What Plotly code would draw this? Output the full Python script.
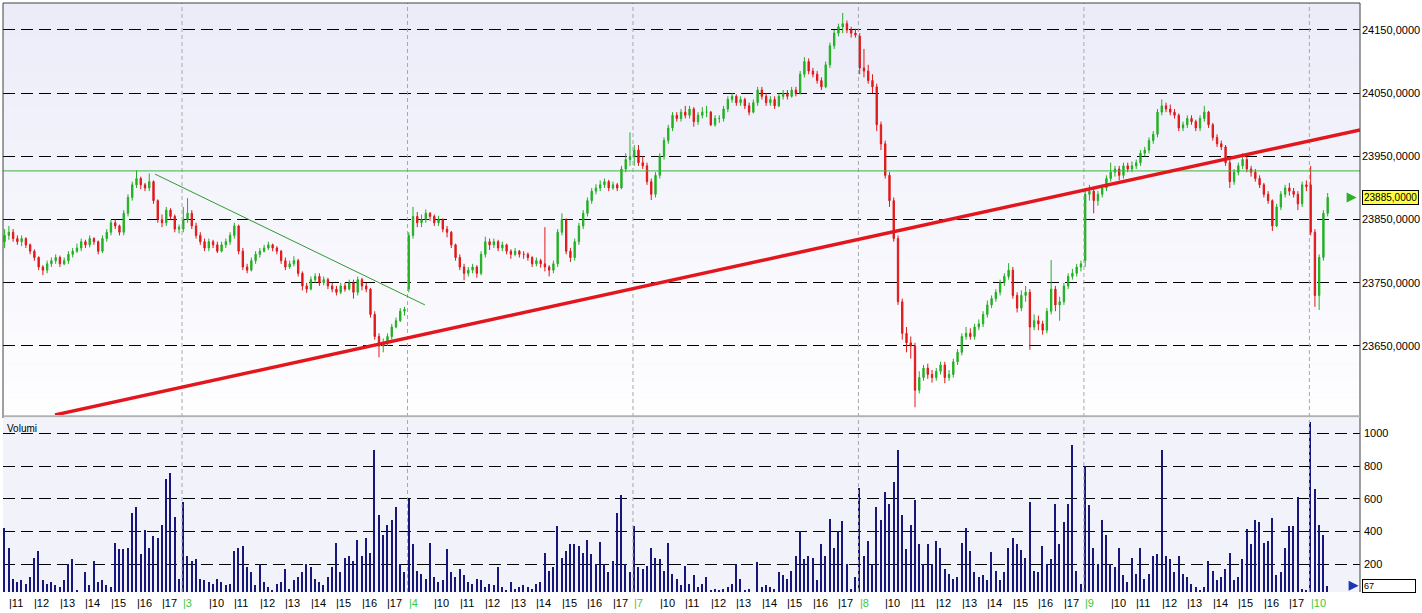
import plotly.graph_objects as go
from plotly.subplots import make_subplots

# Sessions on the chart (day of month) and the 10-minute slot of the first bar (0 = 9:00)
days = ["2", "3", "4", "7", "8", "9", "10"]
first_slot = [11, 0, 0, 0, 0, 0, 0]
hour_labels = [10, 11, 12, 13, 14, 15, 16, 17]

# day 2 (from 10:50)
o_d2 = [23815, 23825, 23830, 23820, 23815, 23820, 23810, 23800, 23790, 23775, 23770, 23780, 23785, 23790, 23780, 23785, 23795, 23800, 23805, 23815, 23810, 23820, 23815, 23800, 23820, 23830, 23845, 23840, 23830, 23860, 23885, 23905, 23915, 23905, 23900, 23910, 23880, 23850, 23845, 23865, 23855, 23835]
h_d2 = [23835, 23840, 23835, 23825, 23825, 23822, 23812, 23803, 23792, 23778, 23785, 23790, 23795, 23793, 23790, 23800, 23805, 23812, 23820, 23818, 23825, 23822, 23817, 23825, 23835, 23850, 23850, 23842, 23865, 23890, 23910, 23928, 23918, 23908, 23923, 23912, 23882, 23858, 23870, 23868, 23858, 23842]
l_d2 = [23805, 23818, 23815, 23810, 23808, 23805, 23795, 23785, 23770, 23762, 23765, 23775, 23780, 23775, 23778, 23780, 23790, 23797, 23800, 23805, 23806, 23810, 23795, 23797, 23815, 23825, 23835, 23825, 23825, 23855, 23880, 23900, 23898, 23895, 23895, 23875, 23845, 23838, 23840, 23850, 23830, 23828]
c_d2 = [23825, 23830, 23820, 23815, 23820, 23810, 23800, 23790, 23775, 23770, 23780, 23785, 23790, 23780, 23785, 23795, 23800, 23805, 23815, 23810, 23820, 23815, 23800, 23820, 23830, 23845, 23840, 23830, 23860, 23885, 23905, 23915, 23905, 23900, 23910, 23880, 23850, 23845, 23865, 23855, 23835, 23838]
v_d2 = [420, 300, 110, 90, 100, 80, 120, 240, 280, 100, 80, 90, 70, 60, 100, 200, 230, 40, 30, 150, 70, 220, 90, 100, 70, 60, 330, 290, 290, 300, 510, 550, 260, 410, 300, 370, 360, 440, 720, 760, 490, 110]

# day 3
o_d3 = [23835, 23850, 23860, 23840, 23825, 23815, 23805, 23815, 23810, 23800, 23810, 23815, 23825, 23840, 23800, 23775, 23770, 23785, 23795, 23800, 23805, 23810, 23805, 23800, 23785, 23775, 23780, 23785, 23765, 23745, 23740, 23755, 23760, 23750, 23755, 23745, 23740, 23735, 23745, 23740, 23750, 23735, 23755, 23745, 23740, 23700, 23665, 23650, 23655, 23665, 23680, 23690, 23705]
h_d3 = [23870, 23884, 23865, 23845, 23830, 23820, 23820, 23818, 23815, 23815, 23820, 23830, 23845, 23842, 23805, 23780, 23790, 23800, 23805, 23810, 23815, 23812, 23808, 23802, 23790, 23785, 23792, 23788, 23768, 23750, 23760, 23765, 23765, 23760, 23758, 23750, 23745, 23750, 23750, 23755, 23755, 23760, 23758, 23750, 23742, 23705, 23670, 23662, 23670, 23685, 23695, 23710, 23712]
l_d3 = [23830, 23845, 23835, 23820, 23810, 23800, 23800, 23805, 23797, 23798, 23805, 23810, 23820, 23795, 23770, 23765, 23768, 23780, 23790, 23798, 23802, 23800, 23795, 23780, 23770, 23772, 23776, 23760, 23738, 23734, 23738, 23750, 23745, 23746, 23740, 23735, 23730, 23732, 23736, 23738, 23725, 23730, 23738, 23735, 23695, 23660, 23632, 23640, 23650, 23660, 23678, 23688, 23698]
c_d3 = [23850, 23860, 23840, 23825, 23815, 23805, 23815, 23810, 23800, 23810, 23815, 23825, 23840, 23800, 23775, 23770, 23785, 23795, 23800, 23805, 23810, 23805, 23800, 23785, 23775, 23780, 23785, 23765, 23745, 23740, 23755, 23760, 23750, 23755, 23745, 23740, 23735, 23745, 23740, 23750, 23735, 23755, 23745, 23740, 23700, 23665, 23650, 23655, 23665, 23680, 23690, 23705, 23708]
v_d3 = [580, 250, 220, 230, 110, 100, 90, 80, 110, 90, 70, 80, 280, 300, 310, 180, 150, 70, 200, 90, 60, 40, 80, 90, 170, 50, 100, 120, 150, 200, 180, 110, 90, 70, 120, 180, 330, 150, 240, 250, 220, 350, 250, 360, 270, 900, 500, 380, 440, 470, 550, 200, 150]

# day 4
o_d4 = [23740, 23825, 23855, 23845, 23850, 23860, 23855, 23845, 23850, 23835, 23830, 23810, 23790, 23775, 23765, 23770, 23775, 23765, 23795, 23815, 23810, 23815, 23805, 23810, 23800, 23795, 23800, 23795, 23795, 23790, 23780, 23785, 23780, 23775, 23770, 23780, 23830, 23850, 23800, 23790, 23815, 23840, 23860, 23880, 23895, 23900, 23905, 23910, 23900, 23905, 23900, 23930, 23945]
h_d4 = [23830, 23870, 23862, 23858, 23866, 23862, 23858, 23856, 23852, 23840, 23832, 23812, 23795, 23780, 23775, 23780, 23778, 23800, 23823, 23820, 23820, 23818, 23815, 23812, 23803, 23805, 23802, 23800, 23798, 23792, 23790, 23788, 23838, 23778, 23785, 23835, 23860, 23852, 23805, 23820, 23845, 23865, 23885, 23900, 23906, 23912, 23915, 23913, 23910, 23908, 23935, 23955, 23988]
l_d4 = [23735, 23820, 23838, 23838, 23845, 23848, 23840, 23840, 23830, 23822, 23805, 23785, 23770, 23754, 23760, 23765, 23758, 23762, 23790, 23802, 23805, 23800, 23800, 23795, 23788, 23792, 23790, 23788, 23785, 23775, 23776, 23774, 23768, 23760, 23765, 23775, 23825, 23795, 23783, 23785, 23810, 23835, 23855, 23875, 23890, 23895, 23900, 23895, 23897, 23895, 23898, 23925, 23935]
c_d4 = [23825, 23855, 23845, 23850, 23860, 23855, 23845, 23850, 23835, 23830, 23810, 23790, 23775, 23765, 23770, 23775, 23765, 23795, 23815, 23810, 23815, 23805, 23810, 23800, 23795, 23800, 23795, 23795, 23790, 23780, 23785, 23780, 23775, 23770, 23780, 23830, 23850, 23800, 23790, 23815, 23840, 23860, 23880, 23895, 23900, 23905, 23910, 23900, 23905, 23900, 23930, 23945, 23950]
v_d4 = [600, 320, 160, 140, 110, 330, 120, 90, 100, 290, 150, 120, 170, 130, 90, 80, 110, 100, 60, 80, 70, 180, 60, 40, 90, 50, 60, 70, 60, 50, 80, 90, 270, 160, 180, 430, 240, 280, 320, 320, 310, 270, 350, 260, 200, 335, 200, 150, 220, 510, 620, 200, 150]

# day 7
o_d7 = [23950, 23960, 23940, 23935, 23910, 23890, 23920, 23950, 23975, 23995, 24015, 24010, 24020, 24015, 24025, 24005, 24015, 24020, 24020, 24000, 24010, 24010, 24025, 24040, 24045, 24035, 24040, 24030, 24020, 24035, 24055, 24045, 24035, 24040, 24030, 24045, 24050, 24045, 24055, 24050, 24080, 24100, 24085, 24080, 24070, 24060, 24095, 24125, 24145, 24155, 24160, 24150, 24145]
h_d7 = [23968, 23968, 23950, 23940, 23915, 23925, 23955, 23980, 24000, 24020, 24020, 24025, 24030, 24030, 24028, 24020, 24028, 24030, 24022, 24015, 24015, 24030, 24045, 24050, 24048, 24045, 24043, 24035, 24040, 24060, 24060, 24050, 24045, 24045, 24050, 24055, 24055, 24060, 24060, 24085, 24107, 24105, 24090, 24085, 24075, 24100, 24130, 24150, 24160, 24177, 24165, 24155, 24152]
l_d7 = [23935, 23935, 23930, 23905, 23881, 23885, 23915, 23945, 23970, 23990, 24005, 24005, 24010, 24010, 23997, 24000, 24010, 24012, 23998, 23997, 24003, 24005, 24020, 24035, 24030, 24030, 24025, 24015, 24018, 24030, 24040, 24030, 24030, 24025, 24028, 24040, 24040, 24043, 24045, 24048, 24075, 24080, 24075, 24065, 24055, 24058, 24090, 24120, 24140, 24145, 24145, 24138, 24138]
c_d7 = [23960, 23940, 23935, 23910, 23890, 23920, 23950, 23975, 23995, 24015, 24010, 24020, 24015, 24025, 24005, 24015, 24020, 24020, 24000, 24010, 24010, 24025, 24040, 24045, 24035, 24040, 24030, 24020, 24035, 24055, 24045, 24035, 24040, 24030, 24045, 24050, 24045, 24055, 24050, 24080, 24100, 24085, 24080, 24070, 24060, 24095, 24125, 24145, 24155, 24160, 24150, 24145, 24142]
v_d7 = [430, 180, 170, 190, 300, 240, 230, 160, 330, 140, 110, 70, 190, 80, 130, 60, 80, 120, 40, 50, 40, 50, 60, 80, 200, 110, 40, 50, 30, 210, 60, 70, 60, 50, 150, 130, 110, 160, 250, 400, 230, 250, 240, 100, 320, 250, 475, 300, 400, 466, 200, 50, 120]

# day 8
o_d8 = [24140, 24090, 24085, 24070, 24060, 24000, 23970, 23920, 23880, 23820, 23720, 23670, 23655, 23650, 23580, 23600, 23615, 23605, 23600, 23610, 23620, 23600, 23605, 23625, 23640, 23665, 23670, 23665, 23680, 23685, 23700, 23715, 23725, 23735, 23750, 23760, 23770, 23730, 23710, 23730, 23735, 23680, 23690, 23685, 23675, 23705, 23740, 23715, 23720, 23745, 23760, 23765, 23775]
h_d8 = [24145, 24120, 24095, 24080, 24065, 24005, 23975, 23925, 23885, 23825, 23725, 23680, 23665, 23655, 23610, 23620, 23622, 23612, 23615, 23625, 23625, 23612, 23630, 23645, 23670, 23680, 23678, 23685, 23692, 23705, 23722, 23730, 23740, 23755, 23765, 23781, 23775, 23735, 23738, 23745, 23740, 23700, 23698, 23690, 23710, 23786, 23745, 23728, 23750, 23765, 23772, 23780, 23785]
l_d8 = [24080, 24075, 24065, 24050, 23990, 23960, 23915, 23870, 23815, 23715, 23660, 23640, 23630, 23553, 23575, 23595, 23598, 23592, 23595, 23605, 23591, 23595, 23600, 23620, 23635, 23660, 23660, 23660, 23675, 23680, 23695, 23710, 23720, 23730, 23745, 23755, 23725, 23703, 23705, 23720, 23644, 23675, 23675, 23668, 23670, 23700, 23705, 23690, 23715, 23740, 23755, 23760, 23768]
c_d8 = [24090, 24085, 24070, 24060, 24000, 23970, 23920, 23880, 23820, 23720, 23670, 23655, 23650, 23580, 23600, 23615, 23605, 23600, 23610, 23620, 23600, 23605, 23625, 23640, 23665, 23670, 23665, 23680, 23685, 23700, 23715, 23725, 23735, 23750, 23760, 23770, 23730, 23710, 23730, 23735, 23680, 23690, 23685, 23675, 23705, 23740, 23715, 23720, 23745, 23760, 23765, 23775, 23780]
v_d8 = [665, 250, 340, 200, 550, 470, 640, 570, 700, 900, 500, 290, 440, 590, 320, 200, 320, 200, 340, 300, 170, 140, 110, 120, 330, 420, 280, 150, 120, 130, 100, 275, 160, 100, 150, 300, 360, 320, 285, 240, 580, 160, 150, 310, 200, 230, 565, 320, 460, 570, 930, 160, 80]

# day 9
o_d9 = [23785, 23890, 23895, 23880, 23890, 23900, 23915, 23925, 23930, 23920, 23935, 23930, 23935, 23940, 23955, 23960, 23975, 23985, 24020, 24030, 24025, 24020, 24015, 23995, 24000, 24010, 24005, 23995, 24010, 24020, 24000, 23980, 23970, 23965, 23940, 23910, 23925, 23935, 23945, 23930, 23925, 23915, 23905, 23890, 23880, 23840, 23870, 23890, 23900, 23895, 23890, 23875, 23905]
h_d9 = [23900, 23905, 23900, 23895, 23905, 23920, 23940, 23935, 23935, 23940, 23940, 23942, 23945, 23960, 23965, 23980, 23990, 24025, 24040, 24035, 24032, 24025, 24018, 24005, 24015, 24015, 24008, 24015, 24030, 24022, 24003, 23985, 23975, 23968, 23945, 23930, 23940, 23955, 23950, 23935, 23930, 23920, 23908, 23895, 23882, 23875, 23895, 23905, 23908, 23900, 23895, 23910, 23912]
l_d9 = [23775, 23880, 23860, 23872, 23885, 23895, 23910, 23918, 23912, 23915, 23925, 23925, 23930, 23935, 23950, 23955, 23970, 23980, 24015, 24020, 24015, 24010, 23990, 23990, 23995, 24000, 23990, 23990, 24005, 23995, 23975, 23965, 23960, 23935, 23900, 23905, 23920, 23930, 23925, 23918, 23910, 23900, 23885, 23875, 23832, 23838, 23865, 23885, 23888, 23885, 23865, 23870, 23895]
c_d9 = [23890, 23895, 23880, 23890, 23900, 23915, 23925, 23930, 23920, 23935, 23930, 23935, 23940, 23955, 23960, 23975, 23985, 24020, 24030, 24025, 24020, 24015, 23995, 24000, 24010, 24005, 23995, 24010, 24020, 24000, 23980, 23970, 23965, 23940, 23910, 23925, 23935, 23945, 23930, 23925, 23915, 23905, 23890, 23880, 23840, 23870, 23890, 23900, 23895, 23890, 23875, 23905, 23902]
v_d9 = [800, 560, 300, 200, 470, 380, 200, 180, 300, 130, 90, 240, 140, 300, 110, 140, 250, 260, 900, 250, 230, 150, 250, 140, 120, 80, 60, 40, 60, 220, 160, 100, 120, 170, 270, 100, 120, 230, 415, 320, 470, 460, 330, 340, 480, 130, 150, 300, 430, 430, 610, 50, 40]

# day 10 (first 50 minutes)
o_d10 = [23905, 23830, 23730, 23790, 23860]
h_d10 = [23935, 23835, 23795, 23865, 23892]
l_d10 = [23825, 23712, 23707, 23785, 23855]
c_d10 = [23830, 23730, 23790, 23860, 23885]
v_d10 = [1070, 660, 440, 380, 67]

price_ticks = [23650, 23750, 23850, 23950, 24050, 24150]
volume_ticks = [200, 400, 600, 800, 1000]
last_price = 23885
last_volume = 67
resistance = 23927
# drawn trend lines: (bar position, price)
trend_up = [(22.85, 23541), (329.6, 23992)]
trend_down = [(46.35, 23922), (109.8, 23715)]

sessions = [
    (o_d2, h_d2, l_d2, c_d2, v_d2),
    (o_d3, h_d3, l_d3, c_d3, v_d3),
    (o_d4, h_d4, l_d4, c_d4, v_d4),
    (o_d7, h_d7, l_d7, c_d7, v_d7),
    (o_d8, h_d8, l_d8, c_d8, v_d8),
    (o_d9, h_d9, l_d9, c_d9, v_d9),
    (o_d10, h_d10, l_d10, c_d10, v_d10),
]

SLOTS = 53  # 9:00 .. 17:40 in 10 minute bars
GREEN = "#22b022"
RED = "#e01818"
NAVY = "#16167c"
FONT = "Liberation Sans"

xs, op, hi, lo, cl, vol = [], [], [], [], [], []
for j, (so, sh, sl, sc, sv) in enumerate(sessions):
    start = SLOTS * j + first_slot[j]
    xs.extend(range(start, start + len(sc)))
    op.extend(so)
    hi.extend(sh)
    lo.extend(sl)
    cl.extend(sc)
    vol.extend(sv)

x_range = [10.62, 329.6]

fig = make_subplots(rows=2, cols=1, shared_xaxes=True)
fig.add_trace(
    go.Candlestick(
        x=xs, open=op, high=hi, low=lo, close=cl,
        increasing=dict(line=dict(color=GREEN, width=1), fillcolor=GREEN),
        decreasing=dict(line=dict(color=RED, width=1), fillcolor=RED),
        whiskerwidth=0, hoverinfo="skip",
    ),
    row=1, col=1,
)
fig.add_trace(
    go.Bar(x=xs, y=vol, width=0.35, marker=dict(color=NAVY, line=dict(width=0)),
           hoverinfo="skip"),
    row=2, col=1,
)

grid = dict(showgrid=True, gridcolor="black", gridwidth=1, griddash="12px,6px")
fig.update_layout(
    width=1422, height=613,
    margin=dict(l=3, r=62, t=3, b=21),
    paper_bgcolor="white", plot_bgcolor="#f2f2fa",
    showlegend=False, boxgap=0.55, bargap=0,
    font=dict(family=FONT, size=11, color="black"),
    xaxis=dict(range=x_range, showticklabels=False, showgrid=False, zeroline=False,
               rangeslider=dict(visible=False), automargin=False),
    xaxis2=dict(range=x_range, showticklabels=False, showgrid=False, zeroline=False,
                automargin=False),
    yaxis=dict(domain=[0.3005, 1.0], range=[23540.8, 24192.7], side="right",
               tickvals=price_ticks, ticktext=[f"{p},0000" for p in price_ticks],
               tickfont=dict(family=FONT, size=11), ticklabelstandoff=1,
               zeroline=False, ticks="", automargin=False, **grid),
    yaxis2=dict(domain=[0.0, 0.2954], range=[29, 1094], side="right",
                tickvals=volume_ticks, tickfont=dict(family=FONT, size=11),
                ticklabelstandoff=3, zeroline=False, ticks="", automargin=False, **grid),
)

shapes = []
# soft vertical gradient behind the price panel
bands = 24
for k in range(bands):
    t = k / (bands - 1)
    r = round(236 + (254 - 236) * t)
    b = round(249 + (255 - 249) * t)
    shapes.append(dict(type="rect", xref="paper", yref="y domain", x0=0, x1=1,
                       y0=1 - (k + 1) / bands, y1=1 - k / bands, layer="below",
                       line=dict(width=0), fillcolor=f"rgb({r},{r},{b})"))
# session separators
for j in range(1, len(days)):
    shapes.append(dict(type="line", xref="x", yref="paper", x0=SLOTS * j - 0.3,
                       x1=SLOTS * j - 0.3, y0=0, y1=1,
                       line=dict(color="#a8a8a8", width=1, dash="4px,3px")))
# drawn studies
shapes.append(dict(type="line", xref="paper", yref="y", x0=0, x1=1, y0=resistance,
                   y1=resistance, line=dict(color="#3cb43c", width=1)))
shapes.append(dict(type="line", xref="x", yref="y", x0=trend_down[0][0], y0=trend_down[0][1],
                   x1=trend_down[1][0], y1=trend_down[1][1], line=dict(color="#2f9a2f", width=1)))
shapes.append(dict(type="line", xref="x", yref="y", x0=trend_up[0][0], y0=trend_up[0][1],
                   x1=trend_up[1][0], y1=trend_up[1][1], line=dict(color="#e2161c", width=3.5)))
# frame
shapes.append(dict(type="line", xref="paper", yref="paper", x0=0, x1=1, y0=1, y1=1,
                   line=dict(color="#404040", width=1)))
shapes.append(dict(type="line", xref="paper", yref="paper", x0=0, x1=0, y0=0.2954, y1=1,
                   line=dict(color="#404040", width=1)))
shapes.append(dict(type="line", xref="paper", yref="paper", x0=1, x1=1, y0=0, y1=1,
                   line=dict(color="#404040", width=1)))
shapes.append(dict(type="line", xref="paper", yref="paper", x0=0, x1=1, y0=0.2985, y1=0.2985,
                   line=dict(color="#b0b0b0", width=2)))
fig.update_layout(shapes=shapes)

ann = []
# time axis labels
for j, day in enumerate(days):
    base = SLOTS * j
    if j > 0:
        ann.append((base, "|" + day, "#3cc83c"))
    if j < len(days) - 1:
        for hr in hour_labels:
            pos = base + (hr - 9) * 6
            if pos >= x_range[0]:
                ann.append((pos, f"|{hr}", "black"))
for pos, txt, col in ann:
    fig.add_annotation(x=pos, xref="x2", y=0, yref="paper", text=txt, showarrow=False,
                       xanchor="left", yanchor="middle", xshift=-2, yshift=-11,
                       font=dict(family=FONT, size=11, color=col))

fig.add_annotation(x=0.0015, xref="paper", y=0.2954, yref="paper", text="Volumi",
                   showarrow=False, xanchor="left", yanchor="top", yshift=-3,
                   font=dict(family=FONT, size=10, color="black"))
fig.add_annotation(x=1.0015, xref="paper", y=last_price, yref="y", text=f"{last_price},0000",
                   showarrow=False, xanchor="left", yanchor="middle", bgcolor="#ffff40",
                   bordercolor="black", borderwidth=1, borderpad=1,
                   font=dict(family=FONT, size=10, color="black"))
fig.add_annotation(x=0.9975, xref="paper", y=last_price, yref="y", text="", showarrow=True,
                   ax=-9, ay=0, arrowhead=2, arrowsize=1, arrowwidth=2, arrowcolor="#2ab02a")
fig.add_annotation(x=1.0015, xref="paper", y=last_volume, yref="y2", text=str(last_volume),
                   showarrow=False, xanchor="left", yanchor="middle", bgcolor="white",
                   bordercolor="black", borderwidth=1, borderpad=1, width=50, align="left",
                   font=dict(family=FONT, size=9, color="black"))
fig.add_annotation(x=0.999, xref="paper", y=last_volume, yref="y2", text="", showarrow=True,
                   ax=-8, ay=0, arrowhead=2, arrowsize=1, arrowwidth=2, arrowcolor="#1a36b0")

# the page opens at exactly the figure size, so drop the default body margin
fig.write_html("out.html", config={"displayModeBar": False},
               post_script="document.body.style.margin='0px';")
